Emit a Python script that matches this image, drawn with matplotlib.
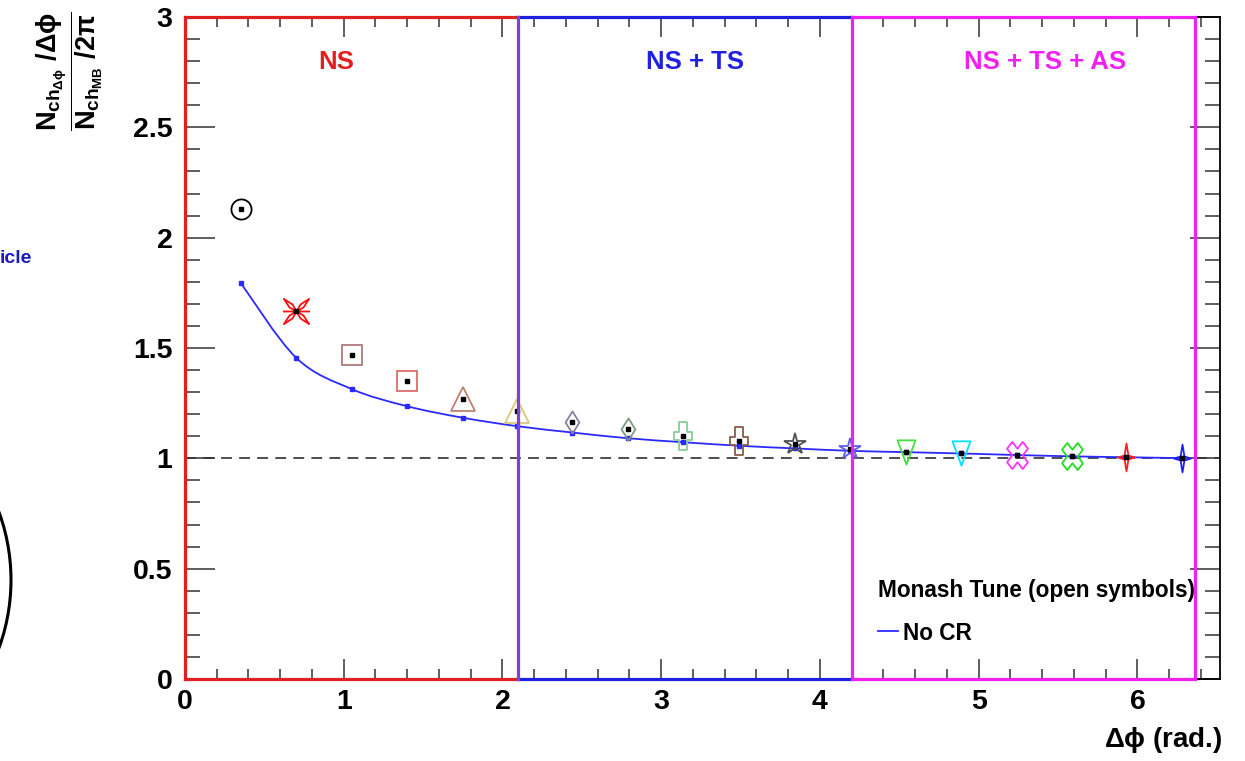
import numpy as np
import matplotlib
matplotlib.use("Agg")
import matplotlib.pyplot as plt
from matplotlib.path import Path
from matplotlib.patches import PathPatch, Circle
from matplotlib.markers import MarkerStyle
from matplotlib.transforms import IdentityTransform, Affine2D

plt.rcParams['font.family'] = ['Liberation Sans', 'DejaVu Sans']
plt.rcParams['font.weight'] = 'bold'
plt.rcParams['mathtext.fontset'] = 'custom'
plt.rcParams['mathtext.rm'] = 'Liberation Sans:bold'
plt.rcParams['mathtext.it'] = 'Liberation Sans:bold'
plt.rcParams['mathtext.bf'] = 'Liberation Sans:bold'

# bin centres in delta phi (rad.)
dphi = [0.35, 0.70, 1.05, 1.40, 1.75, 2.09, 2.44, 2.79, 3.14,
        3.49, 3.84, 4.19, 4.54, 4.89, 5.24, 5.59, 5.93, 6.28]
# Monash tune, one open symbol per bin
monash = [2.132, 1.669, 1.468, 1.350, 1.269, 1.214, 1.166, 1.131, 1.102,
          1.078, 1.063, 1.042, 1.030, 1.022, 1.013, 1.009, 1.004, 1.000]
# No CR curve
no_cr = [1.796, 1.456, 1.314, 1.236, 1.184, 1.146, 1.117, 1.091, 1.073,
         1.057, 1.045, 1.034, 1.028, 1.022, 1.015, 1.009, 1.005, 1.001]

regions = ['NS', 'NS + TS', 'NS + TS + AS']
region_edges = [0.0, 2.1, 4.2, 6.36]
region_colors = ['#e02020', '#2020e0', '#f020f0']
region_label_x = [0.95, 3.21, 5.42]


# marker shapes
def scaled(marker, sx, sy=1.0):
    ms = MarkerStyle(marker)
    return ms.get_path().transformed(ms.get_transform() + Affine2D().scale(sx, sy))


def asterisk():
    verts, codes = [], []
    for a in [45, 135, 225, 315]:
        t = np.radians(a)
        d = np.radians(15)
        r1, r2 = 0.3, 0.66
        verts += [(0, 0), (r1*np.cos(t-d), r1*np.sin(t-d)), (r2*np.cos(t), r2*np.sin(t)),
                  (r1*np.cos(t+d), r1*np.sin(t+d)), (0, 0)]
        codes += [Path.MOVETO, Path.LINETO, Path.LINETO, Path.LINETO, Path.CLOSEPOLY]
    verts += [(-0.5, 0), (0.5, 0)]
    codes += [Path.MOVETO, Path.LINETO]
    return Path(verts, codes)


diamond = Path([(0, 0.5), (0.31, 0), (0, -0.5), (-0.31, 0), (0, 0.5)], closed=True)
star4 = Path([(0, 0.5), (0.07, 0.07), (0.31, 0), (0.07, -0.07), (0, -0.5),
              (-0.07, -0.07), (-0.31, 0), (-0.07, 0.07), (0, 0.5)], closed=True)
tri_down = Path([(-0.37, 0.5), (0.37, 0.5), (0, -0.5), (-0.37, 0.5)], closed=True)
plus = Path([(-0.13, 0.5), (0.13, 0.5), (0.13, 0.16), (0.34, 0.16), (0.34, -0.16),
             (0.13, -0.16), (0.13, -0.5), (-0.13, -0.5), (-0.13, -0.16), (-0.34, -0.16),
             (-0.34, 0.16), (-0.13, 0.16), (-0.13, 0.5)], closed=True)
xcross = scaled('X', 0.77)

markers = ['o', asterisk(), 's', 's', '^', '^', diamond, diamond, plus, plus,
           '*', '*', tri_down, tri_down, xcross, xcross, star4, star4]
msizes = [14.5, 19.5, 14.5, 14.5, 17, 17, 16, 16, 20, 20,
          16, 16, 17.5, 17.5, 19.5, 19.5, 20, 20]
mcolors = ['#000000', '#ff1010', '#b07a7a', '#e06a6a', '#c08070', '#d8c878',
           '#8a7fa0', '#7f9a85', '#88cc99', '#8a5a4a', '#505050', '#6060e0',
           '#44dd44', '#00e0ff', '#ff33ff', '#22dd22', '#ff2020', '#2020ff']

fig = plt.figure(figsize=(12.45, 7.61), dpi=100)
ax = fig.add_axes([185/1245, 82/761, 1035/1245, 662/761])
ax.set_xlim(0, 6.52)
ax.set_ylim(0, 3)

# reference line at 1
ax.axhline(1.0, color='#404040', lw=1.3, ls=(0, (6, 4)), zorder=1)

# smooth No CR curve (Catmull-Rom through the points)
px = np.array(dphi)
py = np.array(no_cr)
verts = [(px[0], py[0])]
codes = [Path.MOVETO]
for i in range(len(px) - 1):
    p0 = np.array([px[max(i-1, 0)], py[max(i-1, 0)]])
    p1 = np.array([px[i], py[i]])
    p2 = np.array([px[i+1], py[i+1]])
    p3 = np.array([px[min(i+2, len(px)-1)], py[min(i+2, len(px)-1)]])
    c1 = p1 + (p2 - p0) / 6
    c2 = p2 - (p3 - p1) / 6
    verts += [tuple(c1), tuple(c2), tuple(p2)]
    codes += [Path.CURVE4] * 3
ax.add_patch(PathPatch(Path(verts, codes), fill=False, ec='#2a2aff', lw=1.3, zorder=3))
ax.plot(dphi, no_cr, 's', color='#2a2aff', ms=2.5, zorder=3)

# Monash open symbols
for x, y, m, s, c in zip(dphi, monash, markers, msizes, mcolors):
    ax.plot([x], [y], marker=m, ms=s, mfc='none', mec=c, mew=1.3, ls='none', zorder=4)
ax.plot(dphi, monash, 's', color='k', ms=2.3, zorder=5)

# region boxes
for i in range(3):
    x0, x1 = region_edges[i], region_edges[i+1]
    ax.plot([x0, x1], [3, 3], color=region_colors[i], lw=2.3, clip_on=False, zorder=6)
    ax.plot([x0, x1], [0, 0], color=region_colors[i], lw=2.3, clip_on=False, zorder=6)
    ax.text(region_label_x[i], 2.795, regions[i], color=region_colors[i],
            fontsize=18.5, fontweight='bold', ha='center', va='center')
ax.plot([0, 0], [0, 3], color=region_colors[0], lw=2.3, clip_on=False, zorder=6)
ax.plot([2.1, 2.1], [0, 3], color='#7a44d0', lw=2.3, clip_on=False, zorder=6)
ax.plot([4.2, 4.2], [0, 3], color=region_colors[2], lw=2.3, clip_on=False, zorder=6)
ax.plot([6.36, 6.36], [0, 3], color=region_colors[2], lw=2.3, clip_on=False, zorder=6)

# legend
ax.text(4.367, 0.372, 'Monash Tune (open symbols)', fontsize=16.3, fontweight='bold',
        ha='left', va='baseline')
ax.plot([4.367, 4.49], [0.218, 0.218], color='#2a2aff', lw=1.3)
ax.text(4.525, 0.177, 'No CR', fontsize=16.3, fontweight='bold', ha='left', va='baseline')

# axes and ticks
for sp in ax.spines.values():
    sp.set_linewidth(1.3)
ax.set_xticks(np.arange(0, 7, 1))
ax.set_xticks(np.arange(0, 6.6, 0.2), minor=True)
ax.set_yticks(np.arange(0, 3.01, 0.5))
ax.set_yticks(np.arange(0, 3.01, 0.1), minor=True)
ax.set_yticklabels(['0', '0.5', '1', '1.5', '2', '2.5', '3'])
ax.tick_params(which='both', direction='in', top=True, right=True,
               color='#333333', width=1.1, labelsize=20.5)
ax.tick_params(axis='x', which='major', length=14.4, pad=7)
ax.tick_params(axis='x', which='minor', length=7.2)
ax.tick_params(axis='y', which='major', length=21.6, pad=9)
ax.tick_params(axis='y', which='minor', length=10.8)

fig.text(1222/1245, 1 - 747/761, r'$\Delta\phi$ (rad.)', fontsize=20,
         fontweight='bold', ha='right', va='baseline')
fig.text(70/1245, 1 - 71/761,
         r'$\dfrac{N_{ch_{\Delta\phi}}\ /\Delta\phi}{N_{ch_{MB}}\ /2\pi}$',
         fontsize=19.5, rotation=90, ha='center', va='center')

# neighbouring panel edge
fig.text(0, 1 - 263/761, 'icle', color='#1a1ac0', fontsize=14, fontweight='bold',
         ha='left', va='baseline')
fig.patches.append(Circle((-187, 761 - 580), 198, transform=IdentityTransform(),
                          fill=False, ec='k', lw=2.2))

fig.savefig('out.png', dpi=100)
